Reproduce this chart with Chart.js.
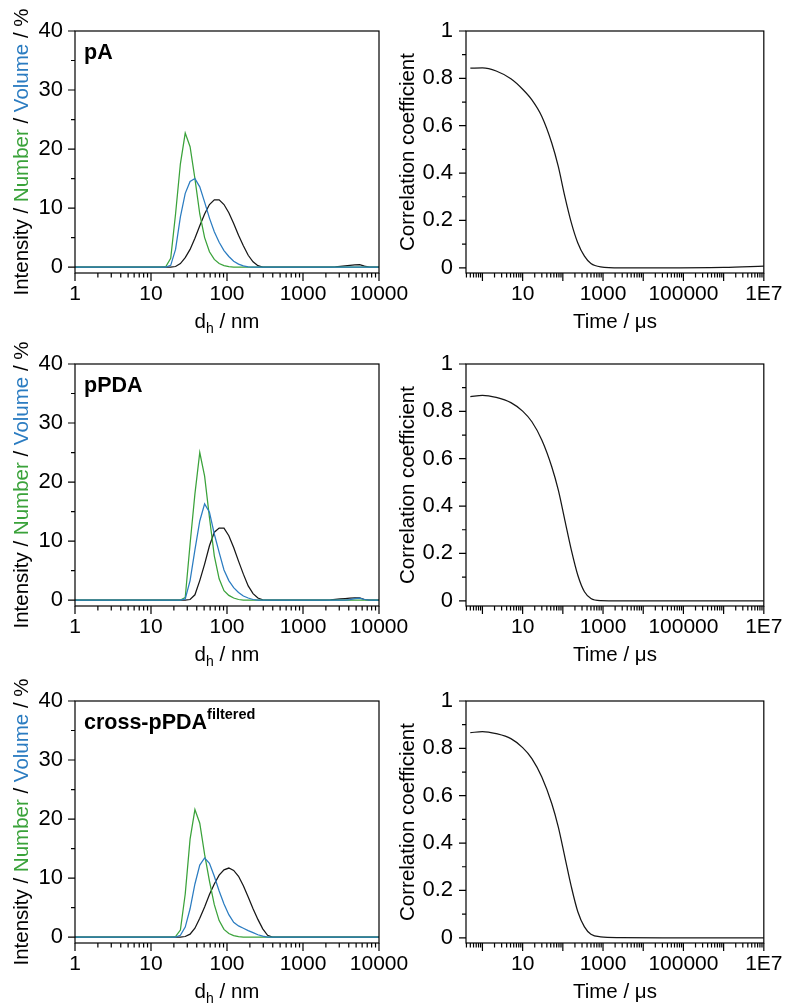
<!DOCTYPE html>
<html>
<head>
<meta charset="utf-8">
<script src="https://cdn.jsdelivr.net/npm/chart.js@4.4.0/dist/chart.umd.min.js"></script>
<style>
  body { margin: 0; background: #fff; width: 791px; height: 1008px; position: relative; overflow: hidden; }
  canvas { position: absolute; }
</style>
</head>
<body>
<canvas id="dist_pA" width="420" height="338" style="left:0;top:0"></canvas>
<canvas id="corr_pA" width="411" height="338" style="left:380px;top:0"></canvas>
<canvas id="dist_pPDA" width="420" height="338" style="left:0;top:333px"></canvas>
<canvas id="corr_pPDA" width="411" height="338" style="left:380px;top:333px"></canvas>
<canvas id="dist_cross" width="420" height="338" style="left:0;top:670px"></canvas>
<canvas id="corr_cross" width="411" height="338" style="left:380px;top:670px"></canvas>
<script>
// size classes (nm)
const sizeNm = [1, 10.10, 11.70, 13.54, 15.69, 18.17, 21.04, 24.36, 28.21, 32.67,
  37.84, 43.82, 50.75, 58.77, 68.06, 78.82, 91.28, 105.7, 122.4, 141.8,
  164.2, 190.1, 220.2, 255.0, 295.3, 342.0, 396.1, 458.7, 531.2, 615.1,
  712.4, 825.0, 955.4, 1106, 1281, 1484, 1718, 1990, 2305, 2669,
  3091, 3580, 4145, 4801, 5560, 6439, 7456, 8635, 10000];

// pA
const pA_intensity = [0, 0, 0, 0, 0, 0, 0.1, 0.6, 1.6, 3.0,
  4.9, 7.0, 9.0, 10.6, 11.4, 11.4, 10.6, 9.2, 7.4, 5.4,
  3.6, 2.0, 0.9, 0.25, 0, 0, 0, 0, 0, 0,
  0, 0, 0, 0, 0, 0, 0, 0, 0, 0.05,
  0.12, 0.2, 0.28, 0.36, 0.42, 0.15, 0, 0, 0];
const pA_number = [0, 0, 0, 0, 0.1, 1.5, 9.0, 17.5, 22.7, 20.4,
  15.0, 9.0, 5.0, 2.6, 1.3, 0.6, 0.25, 0.08, 0, 0,
  0, 0, 0, 0, 0, 0, 0, 0, 0, 0,
  0, 0, 0, 0, 0, 0, 0, 0, 0, 0,
  0, 0, 0, 0, 0, 0, 0, 0, 0];
const pA_volume = [0, 0, 0, 0, 0, 0.3, 3.0, 8.5, 12.5, 14.5,
  15.0, 13.6, 11.0, 8.3, 6.0, 4.2, 2.8, 1.8, 1.0, 0.5,
  0.2, 0.05, 0, 0, 0, 0, 0, 0, 0, 0,
  0, 0, 0, 0, 0, 0, 0, 0, 0, 0,
  0, 0, 0, 0, 0, 0, 0, 0, 0];

// pPDA
const pPDA_intensity = [0, 0, 0, 0, 0, 0, 0, 0, 0, 0.1,
  0.9, 3.3, 6.1, 9.2, 11.5, 12.2, 12.2, 10.9, 8.9, 6.6,
  4.4, 2.4, 1.1, 0.35, 0.05, 0, 0, 0, 0, 0,
  0, 0, 0, 0, 0, 0, 0, 0, 0.05, 0.12,
  0.2, 0.27, 0.32, 0.36, 0.38, 0.1, 0, 0, 0];
const pPDA_number = [0, 0, 0, 0, 0, 0, 0, 0, 0.45, 9.5,
  18.0, 25.0, 21.0, 14.0, 7.5, 3.6, 1.6, 0.8, 0.35, 0.1,
  0, 0, 0, 0, 0, 0, 0, 0, 0, 0,
  0, 0, 0, 0, 0, 0, 0, 0, 0, 0,
  0, 0, 0, 0, 0, 0, 0, 0, 0];
const pPDA_volume = [0, 0, 0, 0, 0, 0, 0, 0, 0.2, 3.3,
  8.5, 13.4, 16.3, 14.9, 11.2, 8.1, 5.1, 3.3, 2.1, 1.3,
  0.7, 0.35, 0.1, 0, 0, 0, 0, 0, 0, 0,
  0, 0, 0, 0, 0, 0, 0, 0, 0, 0,
  0, 0, 0.1, 0.25, 0.35, 0.1, 0, 0, 0];

// cross-pPDA filtered
const cross_intensity = [0, 0, 0, 0, 0, 0, 0, 0, 0.1, 0.5,
  1.5, 3.2, 5.1, 7.2, 9.0, 10.5, 11.4, 11.7, 11.3, 10.3,
  8.7, 6.8, 4.8, 3.0, 1.4, 0.3, 0, 0, 0, 0,
  0, 0, 0, 0, 0, 0, 0, 0, 0, 0,
  0, 0, 0, 0, 0, 0, 0, 0, 0];
const cross_number = [0, 0, 0, 0, 0, 0, 0.1, 1.2, 7.3, 16.6,
  21.6, 19.3, 14.0, 9.5, 5.5, 2.8, 1.3, 0.6, 0.25, 0.1,
  0, 0, 0, 0, 0, 0, 0, 0, 0, 0,
  0, 0, 0, 0, 0, 0, 0, 0, 0, 0,
  0, 0, 0, 0, 0, 0, 0, 0, 0];
const cross_volume = [0, 0, 0, 0, 0, 0, 0, 0.3, 1.7, 4.8,
  9.0, 12.2, 13.4, 12.5, 10.3, 7.8, 5.6, 3.8, 2.5, 1.9,
  1.5, 1.1, 0.75, 0.4, 0.15, 0, 0, 0, 0, 0,
  0, 0, 0, 0, 0, 0, 0, 0, 0, 0,
  0, 0, 0, 0, 0, 0, 0, 0, 0];

// correlograms (time in us)
const lagTime = [0.5, 1, 2.2, 5.1, 10, 17, 30, 53, 77, 112, 163, 236, 345, 500, 870, 2700, 30000, 1000000, 10000000];
const pA_corr = [0.843, 0.844, 0.831, 0.798, 0.754, 0.709, 0.639, 0.527, 0.428, 0.302, 0.19, 0.105, 0.049, 0.018, 0.004, 0, 0, 0.002, 0.007];
const pPDA_corr = [0.862, 0.868, 0.859, 0.837, 0.801, 0.756, 0.679, 0.566, 0.468, 0.341, 0.214, 0.108, 0.038, 0.01, 0.001, 0, 0, 0, 0];
const cross_corr = [0.866, 0.871, 0.862, 0.841, 0.803, 0.757, 0.679, 0.567, 0.468, 0.342, 0.215, 0.11, 0.046, 0.015, 0.004, 0.001, 0, 0, 0];

const sizeTicks = [1, 10, 100, 1000, 10000];
const timeTicks = [10, 1000, 100000, 10000000];
const pctTicks = [0, 10, 20, 30, 40];
const corrTicks = [0, 0.2, 0.4, 0.6, 0.8, 1];

const FONT = '"Liberation Sans", Arial, Helvetica, sans-serif';
const BLACK = '#161616', GREEN = '#3aa23a', BLUE = '#2b7cc1';
Chart.defaults.font.family = FONT;
Chart.defaults.font.size = 19;
Chart.defaults.color = '#000';

function logMinors(min, max) {
  const out = [];
  for (let e = Math.floor(Math.log10(min)); e <= Math.ceil(Math.log10(max)); e++) {
    for (let k = 2; k <= 9; k++) {
      const v = k * Math.pow(10, e);
      if (v >= min && v <= max) out.push(v);
    }
  }
  return out;
}
function logMajors(min, max) {
  const out = [];
  for (let e = Math.ceil(Math.log10(min)); e <= Math.floor(Math.log10(max)); e++) out.push(Math.pow(10, e));
  return out;
}

function drawRuns(ctx, runs, x, y, align) {
  let w = 0;
  runs.forEach(r => { ctx.font = r.font; w += ctx.measureText(r.text).width; });
  let cx = align === 'center' ? x - w / 2 : x;
  runs.forEach(r => {
    ctx.font = r.font;
    ctx.fillStyle = r.color || '#000';
    ctx.fillText(r.text, cx, y + (r.dy || 0));
    cx += ctx.measureText(r.text).width;
  });
}

// frame, tick marks and rich-text titles
const framePlugin = {
  id: 'frame',
  afterDraw(chart, args, o) {
    const { ctx, chartArea: a, scales: { x, y } } = chart;
    ctx.save();
    ctx.strokeStyle = '#000';
    ctx.lineWidth = 1.2;
    ctx.strokeRect(a.left, a.top, a.right - a.left, a.bottom - a.top);
    ctx.beginPath();
    const xmin = x.min, xmax = x.max;
    logMajors(xmin, xmax).forEach(v => { const p = x.getPixelForValue(v); ctx.moveTo(p, a.bottom); ctx.lineTo(p, a.bottom + 8); });
    logMinors(xmin, xmax).forEach(v => { const p = x.getPixelForValue(v); ctx.moveTo(p, a.bottom); ctx.lineTo(p, a.bottom + 4.5); });
    o.yTicks.forEach((v, i) => {
      const p = y.getPixelForValue(v);
      ctx.moveTo(a.left - 7, p); ctx.lineTo(a.left, p);
      if (i < o.yTicks.length - 1) {
        const m = y.getPixelForValue((v + o.yTicks[i + 1]) / 2);
        ctx.moveTo(a.left - 4, m); ctx.lineTo(a.left, m);
      }
    });
    ctx.stroke();

    ctx.textAlign = 'left';
    ctx.textBaseline = 'alphabetic';
    // x title
    drawRuns(ctx, o.xTitle, (a.left + a.right) / 2, 328, 'center');
    // y title
    ctx.save();
    ctx.translate(o.yTitleX, (a.top + a.bottom) / 2);
    ctx.rotate(-Math.PI / 2);
    drawRuns(ctx, o.yTitle, 0, 0, 'center');
    ctx.restore();
    // panel label
    if (o.label) drawRuns(ctx, o.label, a.left + 9, a.top + 28, 'left');
    ctx.restore();
  }
};

const F20 = '20.5px ' + FONT, F13 = '14px ' + FONT;
const B21 = 'bold 21.5px ' + FONT, B14 = 'bold 14.5px ' + FONT;
const xTickFont = { size: 21 }, yTickFont = { size: 22 };

function series(xs, ys) { return xs.map((v, i) => ({ x: v, y: ys[i] })); }

function makeDist(id, label, intensity, number, volume) {
  new Chart(document.getElementById(id), {
    type: 'line',
    data: {
      datasets: [
        { data: series(sizeNm, intensity), borderColor: BLACK, order: 3 },
        { data: series(sizeNm, number), borderColor: GREEN, order: 2 },
        { data: series(sizeNm, volume), borderColor: BLUE, order: 1 }
      ]
    },
    options: {
      responsive: false, animation: false, events: [],
      elements: { point: { radius: 0 }, line: { borderWidth: 1.25, tension: 0 } },
      layout: { padding: { top: 31, right: 41, left: 0, bottom: 0 } },
      plugins: {
        legend: { display: false }, tooltip: { enabled: false },
        frame: {
          yTicks: pctTicks, yTitleX: 27.5, label: label,
          xTitle: [{ text: 'd', font: F20 }, { text: 'h', font: F13, dy: 5 }, { text: ' / nm', font: F20 }],
          yTitle: [
            { text: 'Intensity / ', font: F20 },
            { text: 'Number', font: F20, color: GREEN },
            { text: ' / ', font: F20 },
            { text: 'Volume', font: F20, color: BLUE },
            { text: ' / %', font: F20 }
          ]
        }
      },
      scales: {
        x: {
          type: 'logarithmic', min: 1, max: 10000,
          grid: { display: false, drawTicks: false }, border: { display: false },
          ticks: { padding: 8.5, font: xTickFont, autoSkip: false, maxRotation: 0, callback: v => String(v) },
          afterBuildTicks: s => { s.ticks = sizeTicks.map(v => ({ value: v })); },
          afterFit: s => { s.height = 65; }
        },
        y: {
          type: 'linear', min: -1, max: 40,
          grid: { display: false, drawTicks: false }, border: { display: false },
          ticks: { padding: 12, font: yTickFont, callback: v => String(v) },
          afterBuildTicks: s => { s.ticks = pctTicks.map(v => ({ value: v })); },
          afterFit: s => { s.width = 75; }
        }
      }
    },
    plugins: [framePlugin]
  });
}

function makeCorr(id, corr) {
  new Chart(document.getElementById(id), {
    type: 'line',
    data: { datasets: [{ data: series(lagTime, corr), borderColor: BLACK }] },
    options: {
      responsive: false, animation: false, events: [],
      elements: { point: { radius: 0 }, line: { borderWidth: 1.25, cubicInterpolationMode: 'monotone' } },
      layout: { padding: { top: 31, right: 22, left: 0, bottom: 0 } },
      plugins: {
        legend: { display: false }, tooltip: { enabled: false },
        frame: {
          yTicks: corrTicks, yTitleX: 33.5,
          xTitle: [{ text: 'Time / \u03BCs', font: F20 }],
          yTitle: [{ text: 'Correlation coefficient', font: F20 }]
        }
      },
      scales: {
        x: {
          type: 'logarithmic', min: 0.39, max: 10000000,
          grid: { display: false, drawTicks: false }, border: { display: false },
          ticks: { padding: 8.5, font: xTickFont, autoSkip: false, maxRotation: 0, callback: v => (v === 10000000 ? '1E7' : String(v)) },
          afterBuildTicks: s => { s.ticks = timeTicks.map(v => ({ value: v })); },
          afterFit: s => { s.height = 65; }
        },
        y: {
          type: 'linear', min: -0.022, max: 1,
          grid: { display: false, drawTicks: false }, border: { display: false },
          ticks: { padding: 13, font: yTickFont, callback: v => String(v) },
          afterBuildTicks: s => { s.ticks = corrTicks.map(v => ({ value: v })); },
          afterFit: s => { s.width = 86; }
        }
      }
    },
    plugins: [framePlugin]
  });
}

makeDist('dist_pA', [{ text: 'pA', font: B21 }], pA_intensity, pA_number, pA_volume);
makeDist('dist_pPDA', [{ text: 'pPDA', font: B21 }], pPDA_intensity, pPDA_number, pPDA_volume);
makeDist('dist_cross', [{ text: 'cross-pPDA', font: B21 }, { text: 'filtered', font: B14, dy: -10 }], cross_intensity, cross_number, cross_volume);
makeCorr('corr_pA', pA_corr);
makeCorr('corr_pPDA', pPDA_corr);
makeCorr('corr_cross', cross_corr);
</script>
</body>
</html>
